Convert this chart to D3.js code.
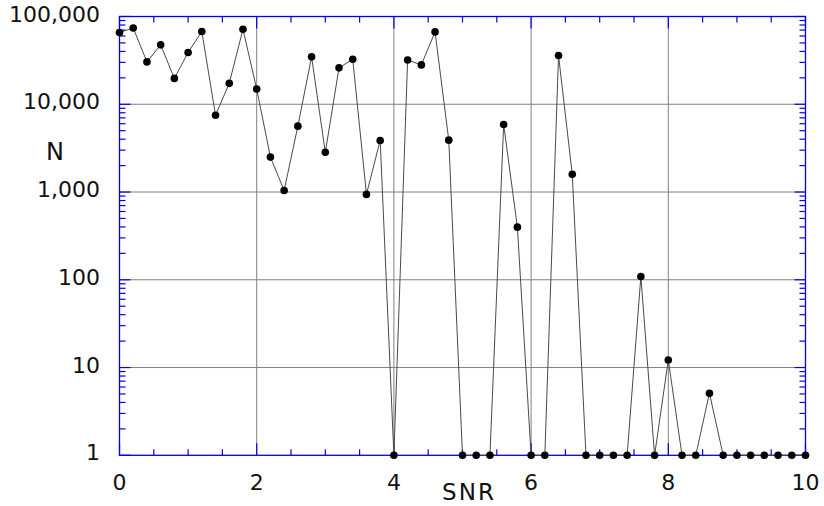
<!DOCTYPE html>
<html>
<head>
<meta charset="utf-8">
<script src="https://cdn.jsdelivr.net/npm/d3@7"></script>
<style>
  body { margin: 0; background: #fff; }
  text { font-family: "DejaVu Sans", sans-serif; fill: #111; }
</style>
</head>
<body>
<script>
// data
var snr = [0, 0.2, 0.4, 0.6, 0.8, 1.0, 1.2, 1.4, 1.6, 1.8,
           2.0, 2.2, 2.4, 2.6, 2.8, 3.0, 3.2, 3.4, 3.6, 3.8,
           4.0, 4.2, 4.4, 4.6, 4.8, 5.0, 5.2, 5.4, 5.6, 5.8,
           6.0, 6.2, 6.4, 6.6, 6.8, 7.0, 7.2, 7.4, 7.6, 7.8,
           8.0, 8.2, 8.4, 8.6, 8.8, 9.0, 9.2, 9.4, 9.6, 9.8, 10.0];
var counts = [65700, 74000, 30400, 47500, 19700, 38900, 67500, 7500, 17300, 71700,
              14900, 2500, 1040, 5630, 34700, 2830, 26000, 32600, 940, 3870,
              1, 32000, 28100, 66800, 3900, 1, 1, 1, 5890, 398,
              1, 1, 35900, 1590, 1, 1, 1, 1, 109, 1,
              12.2, 1, 1, 5.1, 1, 1, 1, 1, 1, 1, 1];
var xTicks = [0, 2, 4, 6, 8, 10];
var yTicks = [1, 10, 100, 1000, 10000, 100000];

var W = 824, H = 506;
var plotL = 119.5, plotR = 805.5, plotT = 16.5, plotB = 455.3;

var svg = d3.select("body").append("svg")
    .attr("width", W)
    .attr("height", H);

var x = d3.scaleLinear().domain([0, 10]).range([plotL, plotR]);
var y = d3.scaleLog().domain([1, 100000]).range([plotB, plotT]);

var blue = "#0000ee";

// grid lines
svg.append("g").selectAll("line")
  .data(xTicks.slice(1, -1))
  .enter().append("line")
    .attr("x1", function(d) { return x(d); })
    .attr("x2", function(d) { return x(d); })
    .attr("y1", plotT).attr("y2", plotB)
    .style("stroke", "#808080").style("stroke-width", 1);

svg.append("g").selectAll("line")
  .data(yTicks.slice(1, -1))
  .enter().append("line")
    .attr("x1", plotL).attr("x2", plotR)
    .attr("y1", function(d) { return y(d); })
    .attr("y2", function(d) { return y(d); })
    .style("stroke", "#808080").style("stroke-width", 1);

// minor tick values
var xMinor = d3.range(0, 10.01, 0.5).filter(function(d) { return d % 2 !== 0; });
var yMinor = [];
yTicks.slice(0, -1).forEach(function(t) {
  for (var k = 2; k <= 9; k++) yMinor.push(t * k);
});

var ticks = svg.append("g").style("stroke", blue).style("stroke-width", 1.2);

function xTick(v, len) {
  ticks.append("line").attr("x1", x(v)).attr("x2", x(v)).attr("y1", plotB).attr("y2", plotB - len);
  ticks.append("line").attr("x1", x(v)).attr("x2", x(v)).attr("y1", plotT).attr("y2", plotT + len);
}
function yTick(v, len) {
  ticks.append("line").attr("y1", y(v)).attr("y2", y(v)).attr("x1", plotL).attr("x2", plotL + len);
  ticks.append("line").attr("y1", y(v)).attr("y2", y(v)).attr("x1", plotR).attr("x2", plotR - len);
}
xTicks.forEach(function(v) { xTick(v, 12); });
xMinor.forEach(function(v) { xTick(v, 6); });
yTicks.forEach(function(v) { yTick(v, 11); });
yMinor.forEach(function(v) { yTick(v, 6); });

// frame
svg.append("rect")
    .attr("x", plotL).attr("y", plotT)
    .attr("width", plotR - plotL).attr("height", plotB - plotT)
    .style("fill", "none").style("stroke", blue).style("stroke-width", 1.3);

// series
var pts = snr.map(function(s, i) { return {x: s, n: counts[i]}; });

var line = d3.line()
    .x(function(d) { return x(d.x); })
    .y(function(d) { return y(d.n); });

svg.append("path")
    .datum(pts)
    .attr("d", line)
    .style("fill", "none")
    .style("stroke", "#4a4a4a")
    .style("stroke-width", 1);

svg.append("g").selectAll("circle")
  .data(pts)
  .enter().append("circle")
    .attr("cx", function(d) { return x(d.x); })
    .attr("cy", function(d) { return y(d.n); })
    .attr("r", 3.8)
    .style("fill", "#000");

// tick labels
var fmt = d3.format(",");
svg.append("g").selectAll("text")
  .data(yTicks)
  .enter().append("text")
    .attr("x", 100)
    .attr("y", function(d) { return y(d) + 5; })
    .attr("text-anchor", "end")
    .style("font-size", "22px")
    .text(function(d) { return fmt(d); });

svg.append("g").selectAll("text")
  .data(xTicks)
  .enter().append("text")
    .attr("x", function(d) { return x(d); })
    .attr("y", 490)
    .attr("text-anchor", "middle")
    .style("font-size", "22px")
    .text(function(d) { return d; });

// axis titles
svg.append("text")
    .attr("x", 469).attr("y", 500)
    .attr("text-anchor", "middle")
    .style("font-size", "23px")
    .style("letter-spacing", "2px")
    .text("SNR");

svg.append("text")
    .attr("x", 55).attr("y", 160)
    .attr("text-anchor", "middle")
    .style("font-size", "24px")
    .text("N");
</script>
</body>
</html>
